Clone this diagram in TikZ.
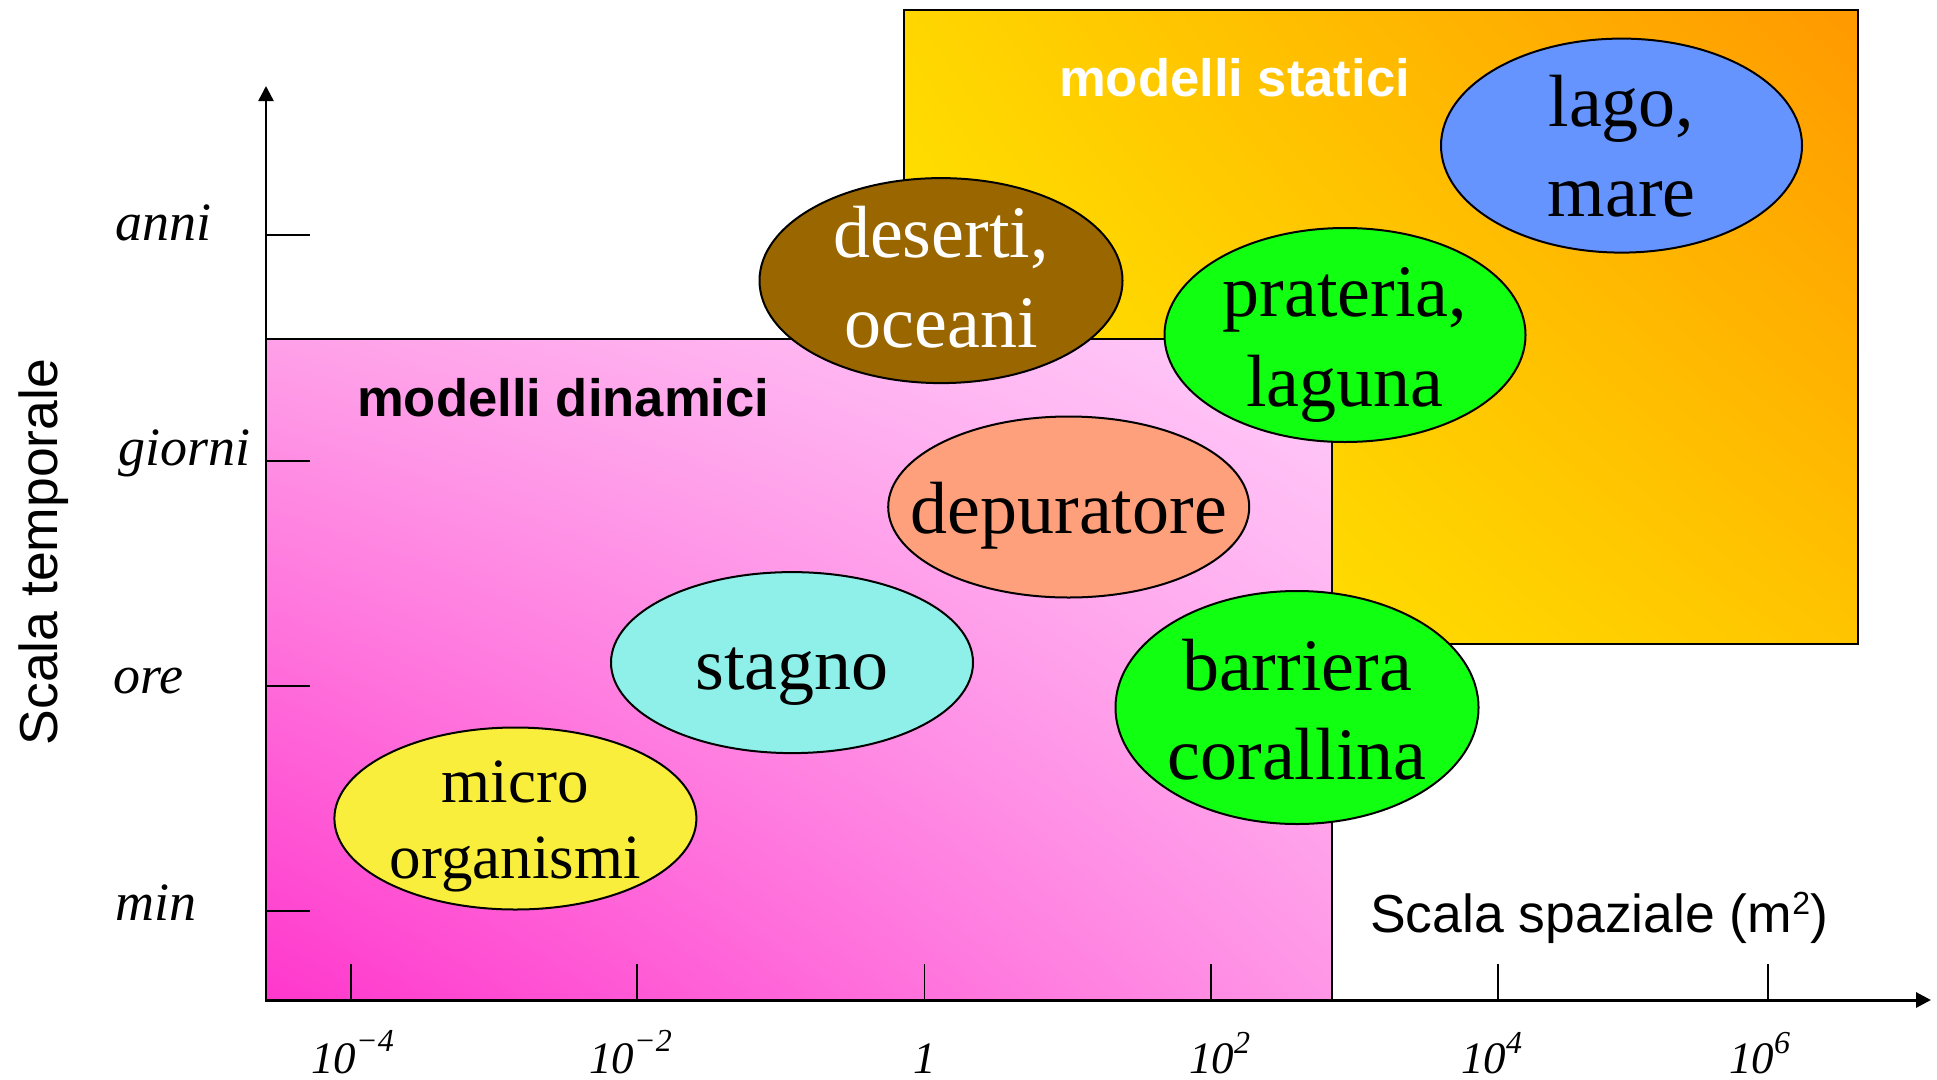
\documentclass[tikz,border=0pt]{standalone}
\usepackage{fontspec}
\setmainfont{Liberation Serif}
\newfontfamily\arialf{Liberation Sans}
\usetikzlibrary{shapes.geometric,arrows.meta,shadings}
\definecolor{pinkA}{RGB}{255,55,204}
\definecolor{pinkB}{RGB}{255,160,232}
\definecolor{pinkC}{RGB}{255,150,230}
\definecolor{pinkD}{RGB}{255,204,250}
\definecolor{orA}{RGB}{255,240,0}
\definecolor{orB}{RGB}{255,214,0}
\definecolor{orC}{RGB}{255,196,0}
\definecolor{orD}{RGB}{255,153,0}
\definecolor{brownE}{RGB}{153,102,0}
\definecolor{blueE}{RGB}{102,148,255}
\definecolor{greenE}{RGB}{17,255,17}
\definecolor{salmonE}{RGB}{255,160,124}
\definecolor{cyanE}{RGB}{143,240,234}
\definecolor{yellowE}{RGB}{250,238,60}
\begin{document}
\begin{tikzpicture}[x=1pt,y=-1pt,
  ell/.style={ellipse, draw=black, line width=2pt, inner sep=0pt},
  etxt/.style={anchor=base, inner sep=0pt, font=\fontsize{74}{74}\selectfont},
  stxt/.style={anchor=base, inner sep=0pt, font=\fontsize{63}{63}\selectfont},
  axlab/.style={anchor=base west, inner sep=0pt, font=\itshape\fontsize{54}{54}\selectfont},
  ticklab/.style={anchor=base west, inner sep=0pt, font=\itshape\fontsize{45}{45}\selectfont},
  tickline/.style={line width=1.6pt},
  boxline/.style={draw=black, line width=2pt},
  sanslab/.style={inner sep=0pt, font=\arialf\fontsize{53.5}{53.5}\selectfont},
  boldlab/.style={anchor=base west, inner sep=0pt, font=\arialf\bfseries\fontsize{52.6}{52.6}\selectfont}
]
\useasboundingbox (0,0) rectangle (1937,1079);
\fill[white] (0,0) rectangle (1937,1079);

% static models box
\shade[lower left=orA, upper left=orB, lower right=orC, upper right=orD] (904,10) rectangle (1858,644);
\draw[boxline] (904,10) rectangle (1858,644);
% dynamic models box
\shade[lower left=pinkA, upper left=pinkB, lower right=pinkC, upper right=pinkD] (266,338.5) rectangle (1332,1000);
\draw[boxline] (266,338.5) rectangle (1332,1000);

\node[boldlab, text=white] (statici) at (1059,96) {modelli statici};
\node[boldlab, text=black] (dinamici) at (357,416) {modelli dinamici};

% ellipses
\node[ell, fill=brownE, minimum width=363pt, minimum height=205pt] (des) at (941,280.6) {};
\node[etxt, text=white] (des1) at (941,257) {deserti,};
\node[etxt, text=white] (des2) at (941,347) {oceani};

\node[ell, fill=blueE, minimum width=361pt, minimum height=214pt] (lago) at (1621.5,145.6) {};
\node[etxt] (lago1) at (1621.5,126) {lago,};
\node[etxt] (lago2) at (1621.5,216.5) {mare};

\node[ell, fill=greenE, minimum width=361pt, minimum height=214pt] (prat) at (1345,335) {};
\node[etxt] (prat1) at (1345,316) {prateria,};
\node[etxt] (prat2) at (1345,406) {laguna};

\node[ell, fill=salmonE, minimum width=361pt, minimum height=181pt] (dep) at (1068.7,507) {};
\node[etxt] (dep1) at (1068.7,533) {depuratore};

\node[ell, fill=cyanE, minimum width=362pt, minimum height=181pt] (stag) at (792,662.6) {};
\node[etxt] (stag1) at (792,689) {stagno};

\node[ell, fill=greenE, minimum width=363pt, minimum height=233pt] (barr) at (1297,707.5) {};
\node[etxt] (barr1) at (1297,690.5) {barriera};
\node[etxt] (barr2) at (1297,779.5) {corallina};

\node[ell, fill=yellowE, minimum width=362pt, minimum height=182pt] (micro) at (515.4,818.5) {};
\node[stxt] (micro1) at (515.4,802) {micro};
\node[stxt] (micro2) at (515.4,878) {organismi};

% axes
\coordinate (O) at (266,1000);
\coordinate (ytop) at (266,86);
\coordinate (xend) at (1931,1000);
\draw[line width=2.5pt, -{Triangle[length=15pt,width=15pt]}] (266,1001.5) -- (ytop);
\draw[line width=3pt, -{Triangle[length=15pt,width=15pt]}] (O) -- (xend);

% y ticks
\foreach \yy in {235,461,686,911}{
  \draw[tickline] (266,\yy) -- (310,\yy);
}
% x ticks
\foreach \xx in {351,637,924.5,1211,1498,1768}{
  \draw[tickline] (\xx,964) -- (\xx,1000);
}

% y labels
\node[axlab] (anni) at (115,240) {anni};
\node[axlab] (giorni) at (118,465) {giorni};
\node[axlab] (ore) at (113,693) {ore};
\node[axlab] (min) at (115,920) {min};

% x labels
\node[ticklab] (xm4) at (311,1073) {10\raisebox{21.5pt}{\fontsize{32}{32}\selectfont −4}};
\node[ticklab] (xm2) at (589,1073) {10\raisebox{21.5pt}{\fontsize{32}{32}\selectfont −2}};
\node[ticklab, anchor=base] (x0) at (925,1073) {1};
\node[ticklab] (x2) at (1189,1073) {10\raisebox{20pt}{\fontsize{32}{32}\selectfont 2}};
\node[ticklab] (x4) at (1461,1073) {10\raisebox{20pt}{\fontsize{32}{32}\selectfont 4}};
\node[ticklab] (x6) at (1729,1073) {10\raisebox{20pt}{\fontsize{32}{32}\selectfont 6}};

% axis titles
\node[sanslab, rotate=90, anchor=base] (ytitle) at (57,552) {Scala temporale};
\node[sanslab, anchor=base west] (xtitle) at (1370,932) {Scala spaziale (m\raisebox{17.5pt}{\fontsize{32}{32}\selectfont 2})};
\end{tikzpicture}
\end{document}
